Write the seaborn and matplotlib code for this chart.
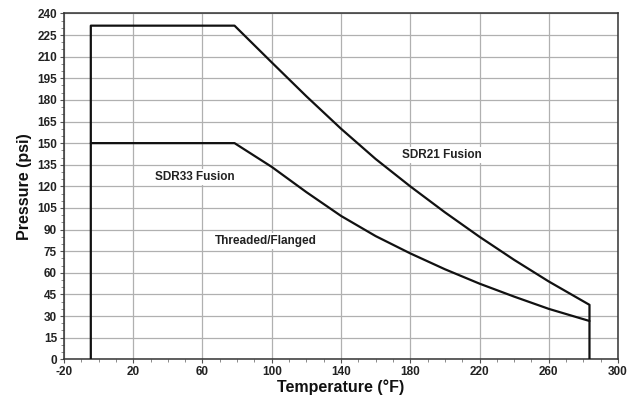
import numpy as np
import pandas as pd
import matplotlib
matplotlib.use("Agg")
import matplotlib.pyplot as plt
import seaborn as sns
from matplotlib.ticker import MultipleLocator

# Curvas de pressão x temperatura
temp_sdr21 = [-4.5, -4.5, 78.5, 100, 120, 140, 160, 180, 200, 220, 240, 260, 283.5, 283.5]
press_sdr21 = [0, 231.5, 231.5, 206, 182.5, 160, 139, 120, 102, 85, 69, 54, 37.8, 0]

temp_thread = [-4.5, 78.5, 100, 120, 140, 160, 180, 200, 220, 240, 260, 283.5]
press_thread = [150, 150, 133.5, 116, 99.5, 85.5, 73.5, 62.5, 52.5, 43.5, 35, 26.6]

labels = ["SDR33 Fusion", "SDR21 Fusion", "Threaded/Flanged"]
label_x = [55.7, 198.4, 96.7]
label_y = [126.6, 141.8, 82.1]

xticks = [-20, 20, 60, 100, 140, 180, 220, 260, 300]
yticks = list(range(0, 241, 15))

sns.set_theme(style="white")
plt.rcParams['font.family'] = ['Liberation Sans', 'DejaVu Sans']
plt.rcParams['font.weight'] = 'bold'
plt.rcParams['axes.unicode_minus'] = False

fig = plt.figure(figsize=(6.41, 4.04), dpi=100)
ax = fig.add_axes([0.0998, 0.1106, 0.8644, 0.8562])

df1 = pd.DataFrame({'temp': temp_sdr21, 'press': press_sdr21})
df2 = pd.DataFrame({'temp': temp_thread, 'press': press_thread})

sns.lineplot(data=df1, x='temp', y='press', sort=False, estimator=None,
             color='#111111', linewidth=1.6, ax=ax, zorder=3)
sns.lineplot(data=df2, x='temp', y='press', sort=False, estimator=None,
             color='#111111', linewidth=1.6, ax=ax, zorder=3)

for txt, tx, ty in zip(labels, label_x, label_y):
    ax.text(tx, ty, txt, ha='center', va='center', fontsize=8.5,
            fontweight='bold', color='#222222', zorder=2,
            bbox=dict(boxstyle='square,pad=0.15', facecolor='white', edgecolor='none'))

ax.set_xlim(-20, 300)
ax.set_ylim(0, 240)
ax.set_xticks(xticks)
ax.set_yticks(yticks)
ax.xaxis.set_minor_locator(MultipleLocator(10))
ax.yaxis.set_minor_locator(MultipleLocator(5))
ax.tick_params(axis='both', which='major', direction='out', length=3, width=0.8,
               color='#555555', labelsize=8.5, pad=2, bottom=True, left=True)
ax.tick_params(axis='both', which='minor', direction='out', length=2, width=0.6,
               color='#777777', bottom=True, left=True)
for lab in ax.get_xticklabels() + ax.get_yticklabels():
    lab.set_fontweight('bold')
    lab.set_color('#222222')

ax.grid(True, which='major', color='#b0b0b0', linewidth=0.9)
ax.set_axisbelow(True)
for side in ['left', 'bottom', 'top', 'right']:
    ax.spines[side].set_color('#333333')
    ax.spines[side].set_linewidth(1.1)

ax.set_xlabel('Temperature (°F)', fontsize=11.5, fontweight='bold', color='#111111', labelpad=1)
ax.set_ylabel('Pressure (psi)', fontsize=11.5, fontweight='bold', color='#111111', labelpad=4)

fig.savefig('out.png', dpi=100, facecolor='white')
plt.close()
